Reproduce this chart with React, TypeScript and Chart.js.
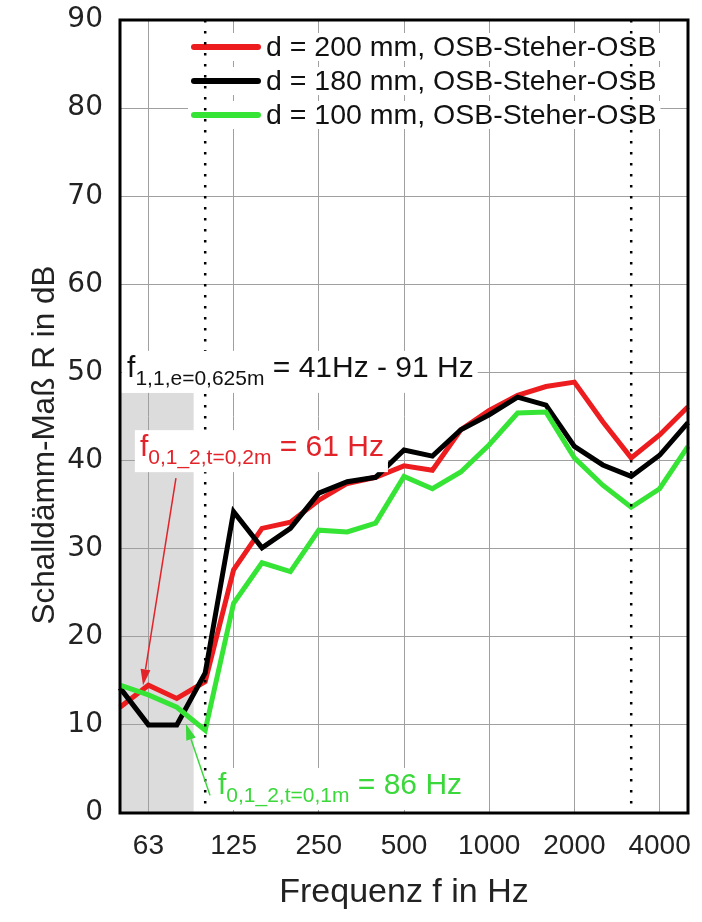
import React, { useEffect, useRef } from "react";
import { Chart, registerables } from "chart.js";

Chart.register(...registerables);

// ---- data ----
const bands = ["50", "63", "80", "100", "125", "160", "200", "250", "315", "400", "500", "630", "800", "1000", "1250", "1600", "2000", "2500", "3150", "4000", "5000"];
const tickLabels = ["63", "125", "250", "500", "1000", "2000", "4000"];
const yTicks = [0, 10, 20, 30, 40, 50, 60, 70, 80, 90];

const seriesLabels = ["d = 200 mm, OSB-Steher-OSB", "d = 180 mm, OSB-Steher-OSB", "d = 100 mm, OSB-Steher-OSB"];
const r200 = [12.0, 14.5, 13.0, 14.9, 27.6, 32.3, 33.0, 35.5, 37.4, 38.1, 39.4, 38.9, 43.5, 45.7, 47.4, 48.4, 48.9, 44.4, 40.3, 42.9, 46.1];
const r180 = [14.2, 10.0, 10.0, 15.9, 34.2, 30.1, 32.3, 36.3, 37.6, 38.1, 41.2, 40.5, 43.5, 45.2, 47.2, 46.3, 41.6, 39.5, 38.2, 40.6, 44.3];
const r100 = [14.5, 13.4, 12.0, 9.4, 23.8, 28.4, 27.4, 32.1, 31.9, 32.9, 38.2, 36.8, 38.7, 41.8, 45.4, 45.5, 40.3, 37.2, 34.7, 36.8, 41.6];

const shadeFreqs = [41, 91];
const shadeTopDb = 47.7;
const markerBands = ["100", "3150"];

const xTitle = "Frequenz f in Hz";
const yTitle = "Schalldämm-Maß R in dB";

// ---- styles ----
const FONT = "'Liberation Sans', Arial, sans-serif";
const YFONT = "'DejaVu Sans', Verdana, sans-serif";
const RED = "#ec1c1f";
const BLACK = "#000000";
const GREEN = "#36e436";
const GRID = "#a0a0a0";

// annotation anchors expressed in axis units: [band index, dB]
const annotations = [
  { at: [0.25, 49.5], color: "#111111", parts: [["f", 0], ["1,1,e=0,625m", 1], [" = 41Hz - 91 Hz", 0]] },
  { at: [0.7, 40.5], color: "#e3232a", parts: [["f", 0], ["0,1_2,t=0,2m", 1], [" = 61 Hz", 0]] },
  { at: [3.45, 2.16], color: "#3bd83b", parts: [["f", 0], ["0,1_2,t=0,1m", 1], [" = 86 Hz", 0]] },
];
const arrows = [
  { from: [1.97, 38.0], to: [0.81, 14.5], color: "#e3232a" },
  { from: [3.17, 2.0], to: [2.32, 10.1], color: "#3bd83b" },
];

const freqIndex = (f: number) => 3 * Math.log2(f / Number(bands[0]));

const MAIN = `30px ${FONT}`;
const SUB = `21px ${FONT}`;

const decor = {
  id: "decor",
  beforeDraw(chart: any) {
    const { ctx, chartArea: a, scales } = chart;
    const x = scales.x, y = scales.y;
    const x0 = Math.max(a.left, x.getPixelForValue(freqIndex(shadeFreqs[0])));
    const x1 = Math.min(a.right, x.getPixelForValue(freqIndex(shadeFreqs[1])));
    const yTop = y.getPixelForValue(shadeTopDb);
    ctx.save();
    ctx.fillStyle = "#dcdcdc";
    ctx.fillRect(x0, yTop, x1 - x0, a.bottom - yTop);
    ctx.restore();
  },
  afterDatasetsDraw(chart: any) {
    const { ctx, chartArea: a, scales } = chart;
    const x = scales.x, y = scales.y;
    ctx.save();

    // legend
    const legX = 194, legLine = 64, legTxtGap = 8, legTop = a.top + 27, legStep = 34;
    ctx.font = `28.5px ${FONT}`;
    ctx.textBaseline = "middle";
    ctx.textAlign = "left";
    chart.data.datasets.forEach((ds: any, i: number) => {
      const cy = legTop + i * legStep;
      const tw = ctx.measureText(ds.label).width;
      ctx.fillStyle = "#fff";
      ctx.fillRect(legX - 6, cy - 14, legLine + legTxtGap + tw + 10, 28);
      ctx.strokeStyle = ds.borderColor;
      ctx.lineWidth = 6;
      ctx.lineCap = "round";
      ctx.beginPath();
      ctx.moveTo(legX, cy);
      ctx.lineTo(legX + legLine, cy);
      ctx.stroke();
      ctx.fillStyle = "#111";
      ctx.fillText(ds.label, legX + legLine + legTxtGap, cy + 1);
    });

    // dotted marker lines
    ctx.lineCap = "butt";
    ctx.setLineDash([2.5, 8.5]);
    ctx.lineWidth = 2.5;
    ctx.strokeStyle = "#000";
    markerBands.forEach((b) => {
      const px = x.getPixelForValue(bands.indexOf(b));
      ctx.beginPath();
      ctx.moveTo(px, a.top);
      ctx.lineTo(px, a.bottom);
      ctx.stroke();
    });
    ctx.setLineDash([]);

    // annotations
    ctx.textBaseline = "alphabetic";
    annotations.forEach((an) => {
      const px = x.getPixelForValue(an.at[0]);
      const py = y.getPixelForValue(an.at[1]);
      let w = 0;
      const widths = an.parts.map(([t, s]) => {
        ctx.font = s ? SUB : MAIN;
        const m = ctx.measureText(t as string).width;
        w += m;
        return m;
      });
      ctx.fillStyle = "#fff";
      ctx.fillRect(Math.max(a.left + 2, px - 5), py - 26, w + 9, 42);
      let cx = px;
      an.parts.forEach(([t, s], i) => {
        ctx.font = s ? SUB : MAIN;
        ctx.fillStyle = an.color;
        ctx.fillText(t as string, cx, s ? py + 8 : py);
        cx += widths[i];
      });
    });

    // arrows
    arrows.forEach((ar) => {
      const x0 = x.getPixelForValue(ar.from[0]), y0 = y.getPixelForValue(ar.from[1]);
      const x1 = x.getPixelForValue(ar.to[0]), y1 = y.getPixelForValue(ar.to[1]);
      const ang = Math.atan2(y1 - y0, x1 - x0);
      const hl = 16, hw = 5;
      const bx = x1 - hl * Math.cos(ang), by = y1 - hl * Math.sin(ang);
      ctx.strokeStyle = ar.color;
      ctx.fillStyle = ar.color;
      ctx.lineWidth = 1.5;
      ctx.beginPath();
      ctx.moveTo(x0, y0);
      ctx.lineTo(bx, by);
      ctx.stroke();
      ctx.beginPath();
      ctx.moveTo(x1, y1);
      ctx.lineTo(bx + hw * Math.sin(ang), by - hw * Math.cos(ang));
      ctx.lineTo(bx - hw * Math.sin(ang), by + hw * Math.cos(ang));
      ctx.closePath();
      ctx.fill();
    });

    // frame
    ctx.lineWidth = 3;
    ctx.strokeStyle = "#000";
    ctx.strokeRect(a.left, a.top, a.right - a.left, a.bottom - a.top);

    // y title
    ctx.translate(45, 445);
    ctx.rotate(-Math.PI / 2);
    ctx.font = `31.5px ${FONT}`;
    ctx.fillStyle = "#222";
    ctx.textAlign = "center";
    ctx.textBaseline = "middle";
    ctx.fillText(yTitle, 0, 0);
    ctx.restore();
  },
};

export default function App() {
  const ref = useRef<HTMLCanvasElement | null>(null);
  useEffect(() => {
    if (!ref.current) return;
    const tickSet = new Set(tickLabels);
    const chart = new Chart(ref.current, {
      type: "line",
      data: {
        labels: bands,
        datasets: [
          { label: seriesLabels[0], data: r200, borderColor: RED, backgroundColor: RED, borderWidth: 5, pointRadius: 0, order: 3 },
          { label: seriesLabels[1], data: r180, borderColor: BLACK, backgroundColor: BLACK, borderWidth: 5, pointRadius: 0, order: 2 },
          { label: seriesLabels[2], data: r100, borderColor: GREEN, backgroundColor: GREEN, borderWidth: 5, pointRadius: 0, order: 1 },
        ],
      },
      options: {
        responsive: true,
        maintainAspectRatio: false,
        animation: false,
        events: [],
        layout: { padding: { top: 20, right: 14, left: 0, bottom: 0 } },
        plugins: { legend: { display: false }, tooltip: { enabled: false } },
        scales: {
          x: {
            type: "category",
            offset: false,
            border: { display: false },
            grid: {
              drawTicks: false,
              lineWidth: 1,
              color: (c: any) => (tickSet.has(bands[c.index]) ? GRID : "rgba(0,0,0,0)"),
            },
            ticks: {
              autoSkip: false,
              maxRotation: 0,
              padding: 16,
              color: "#222",
              font: { family: FONT, size: 28 },
              callback: (_v: any, i: number) => (tickSet.has(bands[i]) ? bands[i] : ""),
            },
            title: {
              display: true,
              text: xTitle,
              color: "#222",
              font: { family: FONT, size: 34 },
              padding: { top: 0, bottom: 9 },
            },
            afterFit: (s: any) => {
              s.height = 109;
              s.paddingLeft = 0;
              s.paddingRight = 0;
            },
          },
          y: {
            min: yTicks[0],
            max: yTicks[yTicks.length - 1],
            border: { display: false },
            afterBuildTicks: (s: any) => {
              s.ticks = yTicks.map((v) => ({ value: v }));
            },
            grid: { drawTicks: false, color: GRID, lineWidth: 1 },
            ticks: {
              padding: 17,
              color: "#222",
              font: { family: YFONT, size: 28 },
            },
            afterFit: (s: any) => {
              s.width = 120;
              s.paddingTop = 0;
              s.paddingBottom = 0;
            },
          },
        },
      },
      plugins: [decor],
    });
    return () => chart.destroy();
  }, []);
  return (
    <div style={{ position: "absolute", left: 0, top: 0, width: 702, height: 922, background: "#fff" }}>
      <canvas ref={ref} />
    </div>
  );
}
